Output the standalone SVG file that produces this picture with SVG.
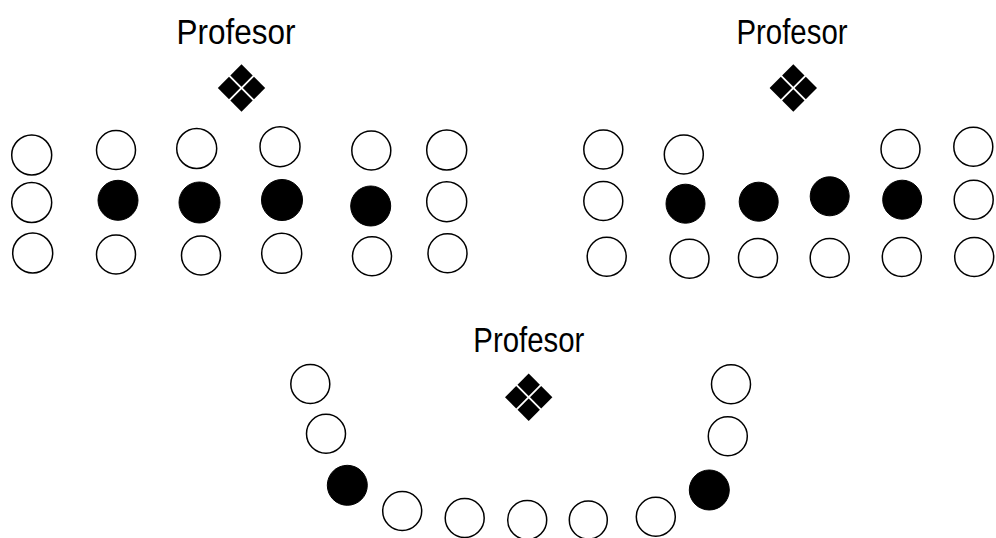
<svg xmlns="http://www.w3.org/2000/svg" xmlns:xlink="http://www.w3.org/1999/xlink" width="996" height="538" viewBox="0 0 996 538">
<style>
.lbl{font-family:"Liberation Sans",Arial,sans-serif;font-size:35px;fill:#000;text-anchor:middle}
.e{fill:#fff;stroke:#000;stroke-width:1.5}
.f{fill:#000;stroke:#000;stroke-width:1}
</style>
<defs>
<g id="dia">
<polygon points="0,-23.7 11.2,-12.5 0,-1.3 -11.2,-12.5" fill="#000"/>
<polygon points="0,23.7 11.2,12.5 0,1.3 -11.2,12.5" fill="#000"/>
<polygon points="-23.7,0 -12.5,11.2 -1.3,0 -12.5,-11.2" fill="#000"/>
<polygon points="23.7,0 12.5,11.2 1.3,0 12.5,-11.2" fill="#000"/>
</g>
</defs>
<rect width="996" height="538" fill="#fff"/>
<g id="connectors"/>
<g id="layout-rows">
<g id="prof-1"><text class="lbl" x="236" y="44" textLength="119" lengthAdjust="spacingAndGlyphs">Profesor</text><use xlink:href="#dia" href="#dia" x="241.5" y="88"/></g>
<g id="seats-1">
<circle class="e" cx="31.7" cy="155" r="20"/>
<circle class="e" cx="116" cy="150" r="19.5"/>
<circle class="e" cx="196.7" cy="148.5" r="20"/>
<circle class="e" cx="280" cy="146.7" r="20"/>
<circle class="e" cx="371.3" cy="150.5" r="19.5"/>
<circle class="e" cx="446.7" cy="150" r="20"/>
<circle class="e" cx="31.7" cy="202.5" r="20"/>
<circle class="f" cx="118" cy="200.3" r="20"/>
<circle class="f" cx="199.5" cy="202.5" r="20.5"/>
<circle class="f" cx="282" cy="200" r="20.5"/>
<circle class="f" cx="370.7" cy="206" r="20"/>
<circle class="e" cx="446.7" cy="201.7" r="20"/>
<circle class="e" cx="32.7" cy="253" r="20"/>
<circle class="e" cx="116" cy="254.5" r="19.5"/>
<circle class="e" cx="201" cy="255.5" r="19.5"/>
<circle class="e" cx="281.7" cy="253.3" r="20"/>
<circle class="e" cx="372" cy="256.3" r="19.5"/>
<circle class="e" cx="447.5" cy="253.3" r="19.5"/>
</g>
</g>
<g id="layout-u">
<g id="prof-2"><text class="lbl" x="792" y="44" textLength="111" lengthAdjust="spacingAndGlyphs">Profesor</text><use xlink:href="#dia" href="#dia" x="793.3" y="88"/></g>
<g id="seats-2">
<circle class="e" cx="603.3" cy="149.5" r="19.5"/>
<circle class="e" cx="683.8" cy="154.5" r="19.5"/>
<circle class="e" cx="900.5" cy="149" r="19.5"/>
<circle class="e" cx="973.3" cy="146.7" r="19.5"/>
<circle class="e" cx="603.3" cy="201" r="19.5"/>
<circle class="f" cx="685.5" cy="203.7" r="19.5"/>
<circle class="f" cx="758.7" cy="201.7" r="19.5"/>
<circle class="f" cx="829.7" cy="196.3" r="19.5"/>
<circle class="f" cx="902.2" cy="199.7" r="19.5"/>
<circle class="e" cx="973.7" cy="199.7" r="19.5"/>
<circle class="e" cx="606.7" cy="256.7" r="19.5"/>
<circle class="e" cx="689.5" cy="258.8" r="19.5"/>
<circle class="e" cx="758" cy="258" r="19.5"/>
<circle class="e" cx="829.7" cy="258" r="19.5"/>
<circle class="e" cx="901.8" cy="257" r="19.5"/>
<circle class="e" cx="974.2" cy="257" r="19.5"/>
</g>
</g>
<g id="layout-arc">
<g id="prof-3"><text class="lbl" x="528.8" y="352" textLength="111" lengthAdjust="spacingAndGlyphs">Profesor</text><use xlink:href="#dia" href="#dia" x="528.7" y="397.3"/></g>
<g id="seats-3">
<circle class="e" cx="310.3" cy="384" r="19.5"/>
<circle class="e" cx="326" cy="433.8" r="19.5"/>
<circle class="f" cx="347.3" cy="485.3" r="20"/>
<circle class="e" cx="402.2" cy="511" r="19.5"/>
<circle class="e" cx="464.7" cy="518" r="19.5"/>
<circle class="e" cx="527.2" cy="520" r="19.5"/>
<circle class="e" cx="588.3" cy="520" r="19"/>
<circle class="e" cx="655.8" cy="516.7" r="19.5"/>
<circle class="f" cx="709.3" cy="490" r="20"/>
<circle class="e" cx="727.8" cy="436.2" r="19.5"/>
<circle class="e" cx="731" cy="384.3" r="19.5"/>
</g>
</g>
</svg>
